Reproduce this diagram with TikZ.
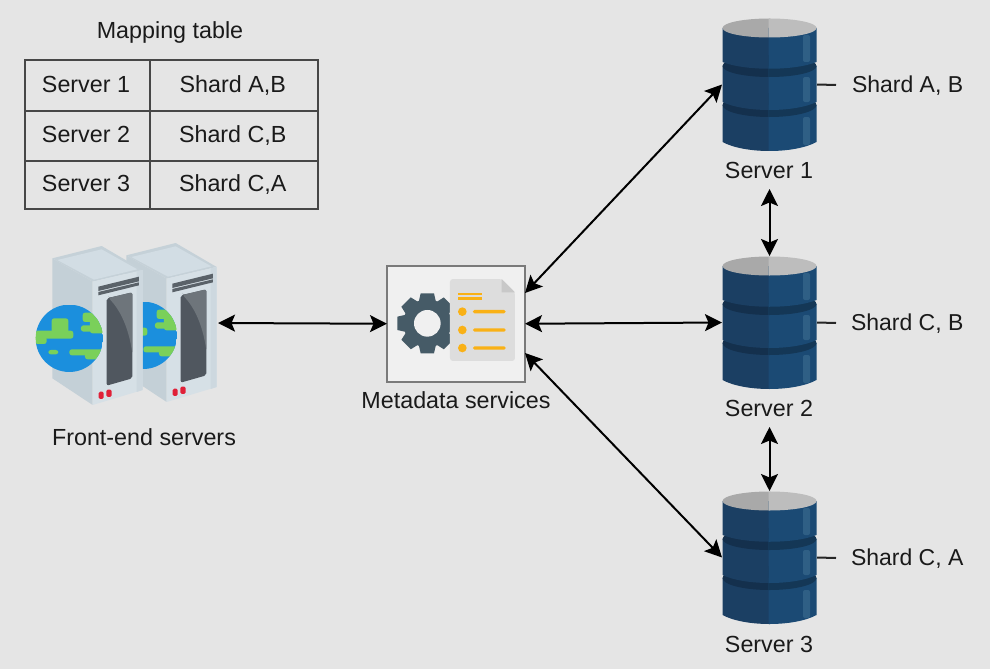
\documentclass[tikz,border=0pt]{standalone}
\usepackage{fontspec}
\setmainfont{Liberation Sans}
\usetikzlibrary{arrows.meta}
\definecolor{bgc}{HTML}{E5E5E5}
\definecolor{txt}{HTML}{1A1A1A}
\definecolor{orng}{HTML}{F9B116}
\tikzset{
  lbl/.style={font=\fontsize{23.3}{27}\selectfont,text=txt,inner sep=0pt,outer sep=0pt},
  cell/.style={lbl,draw=black!72,line width=2pt,text height=16.7pt,text depth=3pt},
  shardlbl/.style={lbl,font=\fontsize{23}{27}\selectfont,anchor=west,text height=16.7pt,text depth=1pt},
  frame/.style={inner sep=0pt,outer sep=0pt},
  link/.style={line width=2pt,black,{Stealth[length=17pt,width=17pt,inset=3.5pt]}-{Stealth[length=17pt,width=17pt,inset=3.5pt]}},
  stub/.style={line width=2pt,black!85}
}
\newcommand\dbsec[5]{% top, bottom, depth, main, dark
  \fill[#4] (-47,#1) -- (-47,#2) .. controls (-25,#2+#3*1.333) and (25,#2+#3*1.333) .. (47,#2) -- (47,#1) -- cycle;
  \fill[#5] (0,#1) ellipse [x radius=47,y radius=#3+3];
}
\newcommand\dbhalf[5]{% x0,x1,main,dark,top
  \begin{scope}
    \clip (#1,-2) rectangle (#2,140);
    \dbsec{87}{124}{9}{#3}{#4}
    \dbsec{48}{84}{8}{#3}{#4}
    \fill[#3] (-47,10) -- (-47,44) .. controls (-25,53) and (25,53) .. (47,44) -- (47,10) -- cycle;
    \fill[#5] (0,10) ellipse [x radius=47,y radius=9.5];
  \end{scope}
}
\newcommand\dbart[1]{%
  \begin{scope}[shift={(769.5,#1)}]
    \definecolor{mL}{HTML}{1B3F63}\definecolor{dL}{HTML}{14304D}\definecolor{tL}{HTML}{A9A9A9}
    \definecolor{mR}{HTML}{1B4A74}\definecolor{dR}{HTML}{143756}\definecolor{tR}{HTML}{BDBDBD}
    \dbhalf{-48}{1}{mL}{dL}{tL}
    \dbhalf{-1}{48}{mR}{dR}{tR}
    \definecolor{hl}{HTML}{2F5F85}
    \fill[hl,rounded corners=2pt] (33.5,17) rectangle (40.5,44);
    \fill[hl,rounded corners=2pt] (33.5,59) rectangle (40.5,84);
    \fill[hl,rounded corners=2pt] (33.5,99) rectangle (40.5,127);
  \end{scope}
}
\newcommand\towerart{%
  \fill[fill={rgb,255:red,196;green,208;blue,215}] (97,85) -- (218,155) -- (218,525) -- (97,445) -- cycle;
  \fill[fill={rgb,255:red,197;green,209;blue,216}] (97,85) -- (245,48) -- (368,120) -- (218,155) -- cycle;
  \fill[fill={rgb,255:red,210;green,221;blue,228}] (112,90) -- (245,58) -- (352,118) -- (222,149) -- cycle;
  \fill[fill={rgb,255:red,214;green,224;blue,230}] (218,155) -- (368,120) -- (368,480) -- (218,525) -- cycle;
  \fill[fill={rgb,255:red,205;green,216;blue,223}] (350,124) -- (368,120) -- (368,480) -- (350,486) -- cycle;
  \fill[fill={rgb,255:red,90;green,98;blue,105}] (235,170) -- (357,140) -- (357,154) -- (235,183) -- cycle;
  \fill[fill={rgb,255:red,90;green,98;blue,105}] (235,186) -- (357,157) -- (357,166) -- (235,196) -- cycle;
  \fill[fill={rgb,255:red,80;green,87;blue,95},rounded corners=2pt] (260,205) -- (337,187) -- (337,445) -- (260,467) -- cycle;
  \fill[fill={rgb,255:red,110;green,117;blue,123},rounded corners=2pt] (266,204) -- (337,187) -- (337,370) .. controls (325,290) and (300,240) .. (266,204) -- cycle;
  \fill[fill={rgb,255:red,224;green,32;blue,56},rounded corners=1.5pt] (236,485) rectangle (251,507);
  \fill[fill={rgb,255:red,224;green,32;blue,56},rounded corners=1.5pt] (259,479) rectangle (275,501);
}
\newcommand\globeart{%
  \begin{scope}
    \clip (148,325) circle [radius=101];
    \fill[fill={rgb,255:red,27;green,143;blue,221}] (47,224) rectangle (249,426);
    \begin{scope}[fill={rgb,255:red,122;green,208;blue,90},rounded corners=2.5pt]
      \fill (45,302) rectangle (160,326);
      \fill (45,320) rectangle (80,342);
      \fill (95,265) rectangle (145,310);
      \fill (188,248) rectangle (254,276);
      \fill (210,262) rectangle (254,310);
      \fill (183,286) rectangle (254,305);
      \fill (85,360) rectangle (115,373);
      \fill (148,358) rectangle (254,376);
      \fill (195,366) rectangle (245,388);
    \end{scope}
  \end{scope}
}
\begin{document}
\begin{tikzpicture}[x=1pt,y=-1pt]
\fill[bgc] (0,0) rectangle (990,669);
\useasboundingbox (0,0) rectangle (990,669);
% front-end artwork
\begin{scope}[shift={(94,227)},x=0.3333pt,y=-0.3333pt]
  \towerart
  \globeart
\end{scope}
\begin{scope}[shift={(20,230)},x=0.3333pt,y=-0.3333pt]
  \towerart
  \globeart
\end{scope}
% metadata box
\node[frame,draw={rgb,255:red,122;green,122;blue,122},fill={rgb,255:red,240;green,240;blue,240},line width=2pt,minimum width=138,minimum height=116.5] (meta) at (456,323.75) {};
\begin{scope}[shift={(380,255)},x=0.3333pt,y=-0.3333pt]
  \definecolor{gr}{HTML}{465B67}
  \fill[gr] (142,205) circle [radius=72];
  \foreach \a in {0,45,...,315}{
    \fill[gr,rotate around={\a:(142,205)}] (122,115) -- (162,115) -- (170,150) -- (114,150) -- cycle;
  }
  \fill[fill={rgb,255:red,240;green,240;blue,240}] (142,205) circle [radius=40];
  \fill[fill={rgb,255:red,221;green,221;blue,221},rounded corners=3pt] (210,72) -- (365,72) -- (405,112) -- (405,318) -- (210,318) -- cycle;
  \fill[fill={rgb,255:red,200;green,200;blue,200}] (365,72) -- (405,112) -- (365,112) -- cycle;
  \fill[orng] (235,113) rectangle (305,120);
  \fill[orng] (235,127) rectangle (305,134);
  \foreach \yy in {170,225,279}{
    \fill[orng] (247,\yy) circle [radius=13];
    \fill[orng,rounded corners=1.5pt] (279,\yy-5) rectangle (377,\yy+5);
  }
\end{scope}
% database artwork
\dbart{18}
\dbart{256}
\dbart{491}
% frames
\node[frame,minimum width=182,minimum height=160] (fe) at (127,323) {};
\node[frame,minimum width=95,minimum height=133] (s1) at (769.5,84.5) {};
\node[frame,minimum width=95,minimum height=133] (s2) at (769.5,322.5) {};
\node[frame,minimum width=95,minimum height=133] (s3) at (769.5,557.5) {};
\coordinate (mtop) at (525,293);
\coordinate (mbot) at (525,353);
% labels
\node[lbl] (title) at (170,32) {Mapping table};
\node[cell,minimum width=125,minimum height=50.5] (c11) at (87.5,85.25) {Server 1\kern3pt};
\node[cell,minimum width=167.5,minimum height=50.5] (c12) at (233.75,85.25) {Shard A,B\kern2pt};
\node[cell,minimum width=125,minimum height=50.5] (c21) at (87.5,135.75) {Server 2\kern3pt};
\node[cell,minimum width=167.5,minimum height=50.5] (c22) at (233.75,135.75) {Shard C,B\kern2pt};
\node[cell,minimum width=125,minimum height=48] (c31) at (87.5,185) {Server 3\kern3pt};
\node[cell,minimum width=167.5,minimum height=48] (c32) at (233.75,185) {Shard C,A\kern2pt};
\node[lbl] (felbl) at (144,437) {Front-end servers};
\node[lbl] (metalbl) at (456,400) {Metadata services};
\node[lbl,minimum height=38] (l1) at (769.5,170) {Server 1\kern1pt};
\node[lbl,minimum height=38] (l2) at (769.5,408) {Server 2\kern1pt};
\node[lbl] (l3) at (769.5,644) {Server 3\kern1pt};
\node[shardlbl,inner xsep=16pt] (sa) at (836,85) {Shard A, B};
\node[shardlbl,inner xsep=15pt] (sb) at (836,323) {Shard C, B};
\node[shardlbl,inner xsep=15pt] (sc) at (836,558) {Shard C, A};
% connectors
\draw[link] (fe.east) -- (meta.west);
\draw[link] (meta.east) -- (s2.west);
\draw[link] (mtop) -- (s1.west);
\draw[link] (mbot) -- (s3.west);
\draw[link] (l1.south) -- (s2.north);
\draw[link] (l2.south) -- (s3.north);
\draw[stub] (s1.east) -- (sa.west);
\draw[stub] (s2.east) -- (sb.west);
\draw[stub] (s3.east) -- (sc.west);
\end{tikzpicture}
\end{document}
